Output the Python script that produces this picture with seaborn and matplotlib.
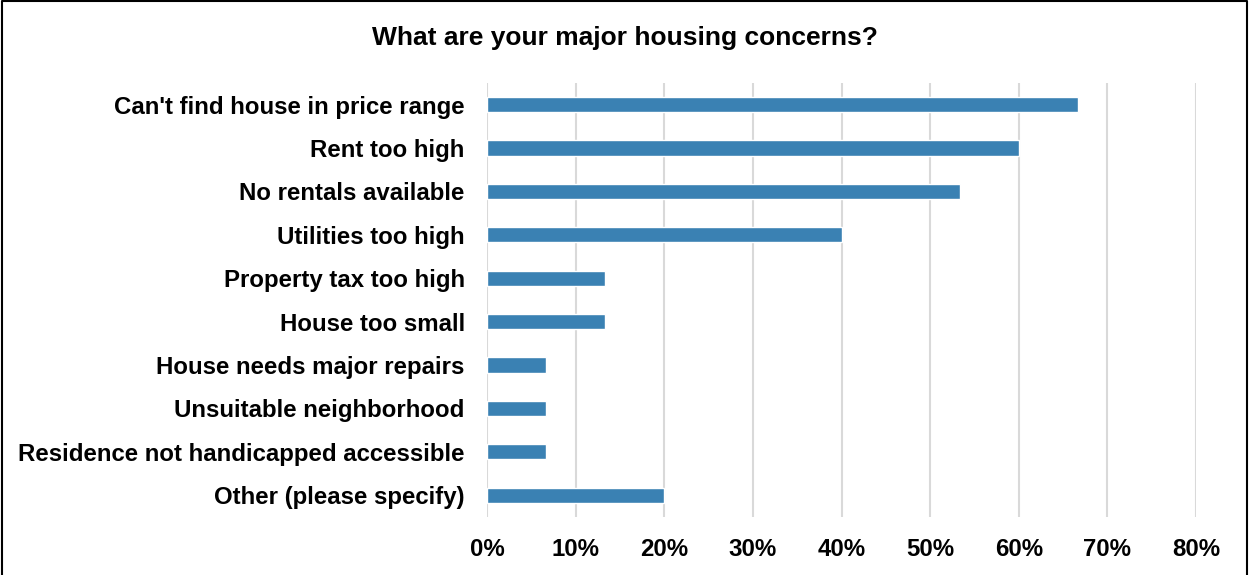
import seaborn as sns
import matplotlib.pyplot as plt
from matplotlib.lines import Line2D
from matplotlib.ticker import PercentFormatter
import pandas as pd

concerns = [
    "Can't find house in price range",
    "Rent too high",
    "No rentals available",
    "Utilities too high",
    "Property tax too high",
    "House too small",
    "House needs major repairs",
    "Unsuitable neighborhood",
    "Residence not handicapped accessible",
    "Other (please specify)",
]
share = [66.67, 60.0, 53.33, 40.0, 13.33, 13.33, 6.67, 6.67, 6.67, 20.0]

df = pd.DataFrame({"concern": concerns, "share": share})

sns.set_style("white")
plt.rcParams['font.family'] = ['Liberation Sans', 'DejaVu Sans']
plt.rcParams['text.color'] = 'black'
plt.rcParams['xtick.color'] = 'black'
plt.rcParams['ytick.color'] = 'black'

fig = plt.figure(figsize=(12.49, 5.75), dpi=100)
ax = fig.add_axes([0.3899, 0.1009, 0.5677, 0.7548])

sns.barplot(data=df, x="share", y="concern", orient="h",
            color="#3a81b3", saturation=1, width=0.35, ax=ax, zorder=3)

ax.set_xlim(0, 80)
ax.set_xticks(range(0, 81, 10))
ax.xaxis.set_major_formatter(PercentFormatter(decimals=0))
ax.grid(axis="x", color="#d9d9d9", linewidth=1.5, zorder=0)
for s in ax.spines.values():
    s.set_visible(False)
ax.tick_params(axis="both", length=0, labelsize=17.3, labelcolor="black")
ax.tick_params(axis="x", pad=15)
ax.tick_params(axis="y", pad=16)
for lab in ax.get_xticklabels() + ax.get_yticklabels():
    lab.set_fontweight("bold")
ax.set_xlabel("")
ax.set_ylabel("")

fig.text(0.5, 0.934, "What are your major housing concerns?", ha="center",
         va="center", fontsize=19, fontweight="bold", color="black")

# outer frame (left, top, right)
fig.add_artist(Line2D([0.0015, 0.0015, 0.9985, 0.9985], [0, 0.9985, 0.9985, 0],
                      color="black", linewidth=1.5, transform=fig.transFigure))

fig.savefig("out.png", dpi=100)
